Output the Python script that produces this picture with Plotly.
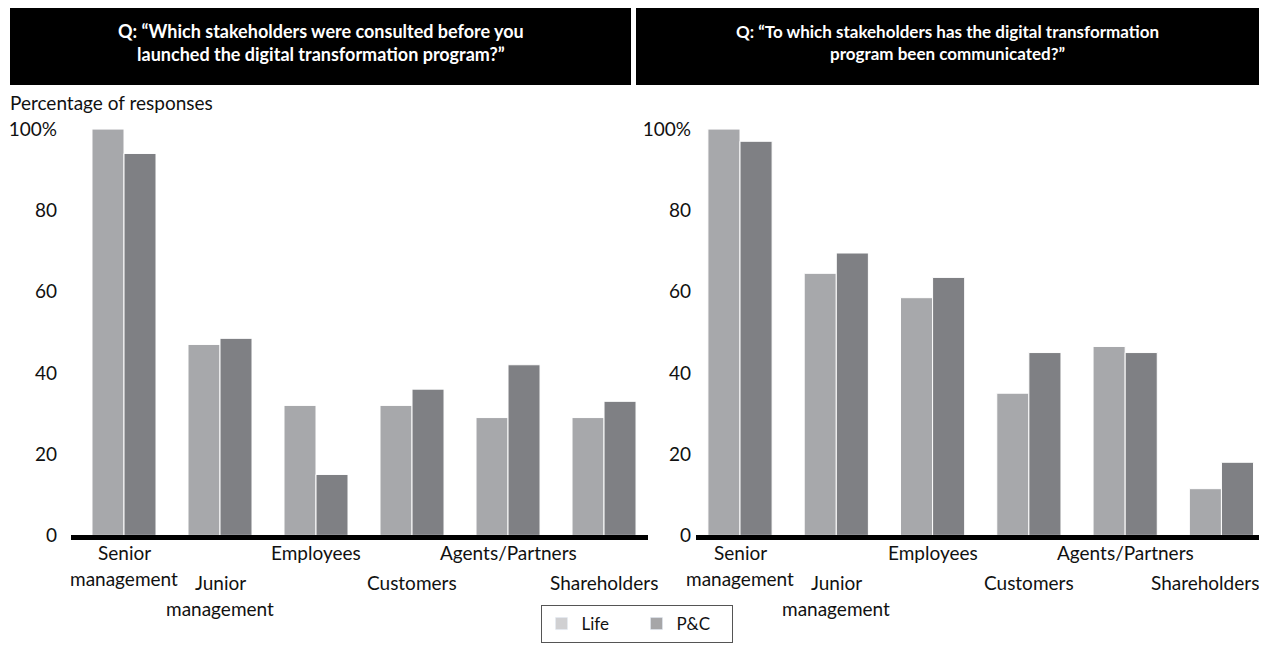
import plotly.graph_objects as go

# ---------------- data ----------------
categories = ["Senior management", "Junior management", "Employees",
              "Customers", "Agents/Partners", "Shareholders"]
life_consulted = [100, 47, 32, 32, 29, 29]
pc_consulted = [94, 48.5, 15, 36, 42, 33]
life_communicated = [100, 64.5, 58.5, 35, 46.5, 11.5]
pc_communicated = [97, 69.5, 63.5, 45, 45, 18]
series_names = ["Life", "P&C"]
y_tickvals = [0, 20, 40, 60, 80, 100]
y_ticktext = ["0", "20", "40", "60", "80", "100%"]
# category label lines: (category index, text, row)
label_lines = [
    (0, "Senior", 0), (0, "management", 1),
    (1, "Junior", 2), (1, "management", 3),
    (2, "Employees", 0),
    (3, "Customers", 2),
    (4, "Agents/Partners", 0),
    (5, "Shareholders", 2),
]
leader_cats = [1, 3, 5]
title_left = "Q: \u201cWhich stakeholders were consulted before you<br>launched the digital transformation program?\u201d"
title_right = "Q: \u201cTo which stakeholders has the digital transformation<br>program been communicated?\u201d"
y_title = "Percentage of responses"

# ---------------- style ----------------
OFF = 8                      # page body margin
K = 0.9834                   # vertical capture factor
W = 1267 - 2 * OFF
H = 646
FONT = "Lato"
C_LIFE = "#a7a8ab"
C_PC = "#7f8084"
C_LIFE_LEG = "#d0d0d2"
C_PC_LEG = "#a6a6a8"
TXT = "#111"


def px(x):
    return (x - OFF) / W


def py(y):
    return 1 - (y / K - OFF) / H


zero_px = 535.5
hundred_px = 129
top_px = 105
unit = (zero_px - hundred_px) / 100
y_top = (zero_px - top_px) / unit

x_idx = list(range(len(categories)))

fig = go.Figure()
for xa, ya, life, pc in [("x", "y", life_consulted, pc_consulted),
                         ("x2", "y2", life_communicated, pc_communicated)]:
    fig.add_trace(go.Bar(x=x_idx, y=life, name=series_names[0], marker_color=C_LIFE,
                         marker_line=dict(color="white", width=1), xaxis=xa, yaxis=ya,
                         showlegend=False, hoverinfo="y"))
    fig.add_trace(go.Bar(x=x_idx, y=pc, name=series_names[1], marker_color=C_PC,
                         marker_line=dict(color="white", width=1), xaxis=xa, yaxis=ya,
                         showlegend=False, hoverinfo="y"))

# legend entries (lighter swatches as in the reference) on a hidden axis pair
fig.add_trace(go.Bar(x=[None], y=[None], name=series_names[0], marker_color=C_LIFE_LEG,
                     xaxis="x3", yaxis="y3", showlegend=True))
fig.add_trace(go.Bar(x=[None], y=[None], name=series_names[1], marker_color=C_PC_LEG,
                     xaxis="x3", yaxis="y3", showlegend=True))

ydom = [py(zero_px), py(top_px)]
common_x = dict(showline=True, linecolor="black", linewidth=5, showgrid=False,
                zeroline=False, showticklabels=False, ticks="", fixedrange=True)
common_y = dict(range=[0, y_top], showgrid=False, zeroline=False, showline=False,
                tickvals=y_tickvals, ticktext=y_ticktext, ticks="",
                tickfont=dict(family=FONT, size=19, color=TXT), domain=ydom)

fig.update_layout(
    width=W, height=H,
    margin=dict(l=0, r=0, t=0, b=0),
    paper_bgcolor="white", plot_bgcolor="white",
    barmode="group", bargap=1/3, bargroupgap=0,
    font=dict(family=FONT, size=16, color=TXT),
    xaxis=dict(domain=[px(71), px(648)], range=[-0.552, 5.458], anchor="y", **common_x),
    yaxis=dict(anchor="x", ticklabelstandoff=13, **common_y),
    xaxis2=dict(domain=[px(696), 1.0], range=[-0.457, 5.39], anchor="y2", **common_x),
    yaxis2=dict(anchor="x2", ticklabelstandoff=4, **common_y),
    xaxis3=dict(domain=[0, 0.01], visible=False, anchor="y3"),
    yaxis3=dict(domain=[0, 0.01], visible=False, anchor="x3"),
    legend=dict(orientation="h", x=px(636.5), xanchor="center", y=0, yanchor="bottom",
                bordercolor="#555", borderwidth=1, font=dict(family=FONT, size=17, color=TXT),
                entrywidth=50, itemwidth=30, traceorder="normal"),
    showlegend=True,
)

shapes = [
    dict(type="rect", xref="paper", yref="paper", x0=px(10), x1=px(631), y0=py(85), y1=1,
         fillcolor="black", line=dict(width=0), layer="below"),
    dict(type="rect", xref="paper", yref="paper", x0=px(636), x1=1, y0=py(85), y1=1,
         fillcolor="black", line=dict(width=0), layer="below"),
]
row_px = [552, 578, 582, 607]
annotations = [
    dict(text=title_left, xref="paper", yref="paper", x=px(320.5), y=py(42), xanchor="center",
         yanchor="middle", showarrow=False,
         font=dict(family=FONT, size=18, color="white", weight="bold")),
    dict(text=title_right, xref="paper", yref="paper", x=px(947), y=py(42), xanchor="center",
         yanchor="middle", showarrow=False,
         font=dict(family=FONT, size=17, color="white", weight="bold")),
    dict(text=y_title, xref="paper", yref="paper", x=0, y=py(102), xanchor="left",
         yanchor="middle", showarrow=False, font=dict(family=FONT, size=19, color=TXT)),
]
for xa, ya, edge_shift in [("x", "y", 0), ("x2", "y2", -16)]:
    for ci, txt, row in label_lines:
        xs = edge_shift if ci == len(categories) - 1 else 0
        annotations.append(dict(text=txt, xref=xa, yref=ya, x=ci, y=0, xanchor="center",
                                yanchor="middle", yshift=-(row_px[row] - zero_px) / K, xshift=xs,
                                showarrow=False, font=dict(family=FONT, size=19, color=TXT)))
    for ci in leader_cats:
        shapes.append(dict(type="line", xref=xa, yref=ya, x0=ci, x1=ci, ysizemode="pixel",
                           yanchor=0, y0=-2, y1=-(569 - zero_px) / K,
                           line=dict(color="#222", width=1)))

fig.update_layout(shapes=shapes, annotations=annotations)
fig.write_html("out.html")
